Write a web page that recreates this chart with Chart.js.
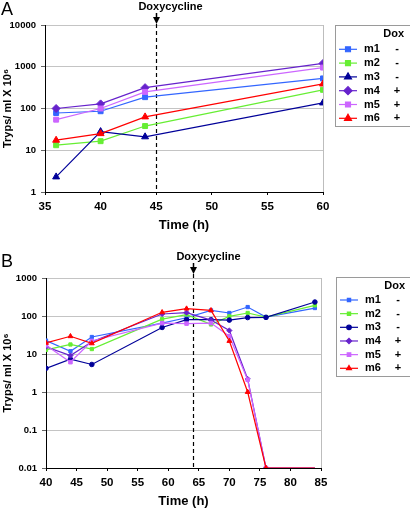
<!DOCTYPE html>
<html>
<head>
<meta charset="utf-8">
<script src="https://cdn.jsdelivr.net/npm/chart.js@4"></script>
<style>
  body { margin: 0; background: #fff; }
  #wrap { position: relative; width: 410px; height: 509px; overflow: hidden; }
  canvas { position: absolute; left: 0; }
  #chartA { top: 0; }
  #chartB { top: 240px; }
</style>
</head>
<body>
<div id="wrap">
  <canvas id="chartA" width="410" height="240"></canvas>
  <canvas id="chartB" width="410" height="269"></canvas>
</div>
<script>
// series names and the Dox column of the legend
const seriesNames = ['m1', 'm2', 'm3', 'm4', 'm5', 'm6'];
const doxSigns = ['-', '-', '-', '+', '+', '+'];

// panel A
const timesA = [36, 40, 44, 60];
const m1A = [78, 86, 187, 525];
const m2A = [13.2, 16.5, 38, 280];
const m3A = [2.3, 28, 21, 136];
const m4A = [100, 129, 316, 1200];
const m5A = [54, 100, 250, 955];
const m6A = [17.4, 25, 63, 387];
const yTicksA = [1, 10, 100, 1000, 10000];
const doxTimeA = 45;

// panel B
const timesB = [40, 44, 47.5, 59, 63, 67, 70, 73, 76, 84];
const m1B = [22.6, 11.8, 28, 65, 90, 141, 120, 172, 94, 162];
const m2B = [12.8, 17.8, 13.5, 83, 109, 60, 98, 120, 94, 191];
const m3B = [4.2, 7.3, 5.3, 50, 80, 80, 78, 91, 92, 233];
const m4B = [15.5, 9.1, 21, 113, 123, 78, 41.5, 2.2, 0.01, 0.01];
const m5B = [17, 6.1, 22, 65, 63, 65, 29.4, 2.1, 0.01, 0.01];
const m6B = [19.6, 29.3, 19, 125, 156, 141, 22, 1.0, 0.01, 0.01];
const yTicksB = [0.01, 0.1, 1, 10, 100, 1000];
const doxTimeB = 64;

const colors = ['#3366ff', '#66ee33', '#000099', '#6622cc', '#cc66ff', '#ff0000'];
const FONT = '"Liberation Sans", Arial, sans-serif';
Chart.defaults.font.family = FONT;
Chart.defaults.color = '#000';

const panelDecor = {
  id: 'panelDecor',
  beforeDatasetsDraw(chart, args, o) {
    const ctx = chart.ctx;
    const x = Math.round(chart.scales.x.getPixelForValue(o.doxTime)) + 0.5;
    ctx.save();
    ctx.strokeStyle = '#000';
    ctx.lineWidth = 1.2;
    ctx.setLineDash([4, 3]);
    ctx.beginPath();
    ctx.moveTo(x, o.arrowTip);
    ctx.lineTo(x, chart.chartArea.bottom);
    ctx.stroke();
    ctx.restore();
  },
  afterDraw(chart, args, o) {
    const ctx = chart.ctx;
    const x = Math.round(chart.scales.x.getPixelForValue(o.doxTime)) + 0.5;
    ctx.save();
    // arrow
    ctx.fillStyle = '#000';
    ctx.strokeStyle = '#000';
    ctx.lineWidth = 1.5;
    ctx.beginPath();
    ctx.moveTo(x, o.arrowTip - 11);
    ctx.lineTo(x, o.arrowTip - 5);
    ctx.stroke();
    ctx.beginPath();
    ctx.moveTo(x - 3.5, o.arrowTip - 7);
    ctx.lineTo(x + 3.5, o.arrowTip - 7);
    ctx.lineTo(x, o.arrowTip);
    ctx.closePath();
    ctx.fill();
    // label
    ctx.font = 'bold 11px ' + FONT;
    ctx.textAlign = 'center';
    ctx.textBaseline = 'middle';
    ctx.fillText('Doxycycline', x + o.textDx, o.textY);
    // panel letter
    ctx.font = '18px ' + FONT;
    ctx.textAlign = 'left';
    ctx.textBaseline = 'alphabetic';
    ctx.fillText(o.letter, 1, o.letterY);
    // legend
    const L = o.legend;
    ctx.strokeStyle = '#9a9a9a';
    ctx.lineWidth = 1;
    ctx.strokeRect(L.x + 0.5, L.y + 0.5, 90, L.h);
    ctx.font = 'bold 11px ' + FONT;
    ctx.textBaseline = 'middle';
    ctx.textAlign = 'right';
    ctx.fillText('Dox', L.x + 69, L.headerY);
    chart.data.datasets.forEach((ds, i) => {
      const y = L.rowY + i * L.rowGap;
      ctx.strokeStyle = ds.borderColor;
      ctx.fillStyle = ds.backgroundColor;
      ctx.lineWidth = 1.2;
      ctx.beginPath();
      ctx.moveTo(L.x + 4, y);
      ctx.lineTo(L.x + 22, y);
      ctx.stroke();
      Chart.helpers.drawPoint(ctx, { pointStyle: ds.pointStyle, radius: L.markR[i], rotation: 0, borderWidth: 1 }, L.x + 13, y);
      ctx.fillStyle = '#000';
      ctx.textAlign = 'left';
      ctx.fillText(ds.label, L.x + 29, y);
      ctx.textAlign = 'center';
      ctx.fillText(doxSigns[i], L.x + 62, y);
    });
    ctx.restore();
  }
};

function makeChart(id, p) {
  const yMin = p.yTicks[0];
  const datasets = p.series.map((vals, i) => ({
    label: seriesNames[i],
    data: p.times.map((t, j) => ({ x: t, y: vals[j] })),
    borderColor: colors[i],
    backgroundColor: colors[i],
    borderWidth: 1.2,
    pointStyle: p.styles[i],
    // no marker on the flat run along the floor after the first one
    pointRadius: c => (c.dataIndex > 0 && vals[c.dataIndex] <= yMin && vals[c.dataIndex - 1] <= yMin ? 0 : p.radii[i]),
    pointBorderWidth: 1,
    tension: 0,
    clip: 0,
    order: 5 - i
  }));
  return new Chart(document.getElementById(id), {
    type: 'line',
    data: { datasets },
    plugins: [panelDecor],
    options: {
      responsive: false,
      animation: false,
      devicePixelRatio: 1,
      layout: { padding: p.padding },
      plugins: {
        legend: { display: false },
        tooltip: { enabled: false },
        panelDecor: p.decor
      },
      scales: {
        x: {
          type: 'linear',
          min: p.xMin,
          max: p.xMax,
          afterFit: s => { s.height = p.xHeight; },
          ticks: { stepSize: 5, font: { size: 11.5, weight: 'bold' }, padding: 5, maxRotation: 0 },
          grid: {
            color: c => (c.tick && c.tick.value === p.xMax ? '#bdbdbd' : 'rgba(0,0,0,0)'),
            tickColor: '#000',
            tickLength: 3
          },
          border: { color: '#000', width: 1 },
          title: {
            display: true,
            text: 'Time (h)',
            font: { size: 13, weight: 'bold', lineHeight: 1.1 },
            padding: { top: 0, bottom: p.xTitlePad }
          }
        },
        y: {
          type: 'logarithmic',
          min: yMin,
          max: p.yTicks[p.yTicks.length - 1],
          afterFit: s => { s.width = p.yWidth; },
          afterBuildTicks: s => { s.ticks = p.yTicks.map(v => ({ value: v })); },
          ticks: { callback: v => String(v), font: { size: 9.5, weight: 'bold' }, padding: 5 },
          grid: { color: '#c4c4c4', tickColor: '#666', tickLength: 4 },
          border: { color: '#000', width: 1 },
          title: {
            display: true,
            text: 'Tryps/ ml X 10\u2076',
            font: { size: 11, weight: 'bold', lineHeight: 1.2 },
            padding: { top: 1, bottom: 0 }
          }
        }
      }
    }
  });
}

makeChart('chartA', {
  times: timesA,
  series: [m1A, m2A, m3A, m4A, m5A, m6A],
  styles: ['rect', 'rect', 'triangle', 'rectRot', 'rect', 'triangle'],
  radii: [3.5, 3.5, 4, 4, 3.5, 4],
  xMin: 35, xMax: 60,
  yTicks: yTicksA,
  padding: { left: 0, top: 25, right: 87, bottom: 0 },
  yWidth: 45, xHeight: 48, xTitlePad: 7,
  decor: {
    doxTime: doxTimeA, arrowTip: 24, textDx: 14, textY: 7, letter: 'A', letterY: 15,
    legend: { x: 335, y: 25, h: 101, headerY: 34, rowY: 49.3, rowGap: 13.8, markR: [3.5, 3.5, 4, 4, 3.5, 4] }
  }
});

makeChart('chartB', {
  times: timesB,
  series: [m1B, m2B, m3B, m4B, m5B, m6B],
  styles: ['rect', 'rect', 'circle', 'rectRot', 'rect', 'triangle'],
  radii: [2.3, 2.3, 2.3, 2.6, 2.5, 2.8],
  xMin: 40, xMax: 85,
  yTicks: yTicksB,
  padding: { left: 0, top: 38, right: 89, bottom: 0 },
  yWidth: 46, xHeight: 41, xTitlePad: 0,
  decor: {
    doxTime: doxTimeB, arrowTip: 34, textDx: 15, textY: 17, letter: 'B', letterY: 27,
    legend: { x: 336, y: 37, h: 99, headerY: 45.7, rowY: 60, rowGap: 13.66, markR: [2.3, 2.3, 2.3, 2.6, 2.5, 2.8] }
  }
});
</script>
</body>
</html>
